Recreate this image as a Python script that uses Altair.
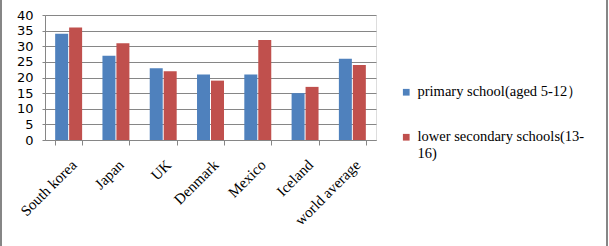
import altair as alt
import pandas as pd

countries = ["South korea", "Japan", "UK", "Denmark", "Mexico", "Iceland", "world average"]
primary = [34, 27, 23, 21, 21, 15, 26]
lower = [36, 31, 22, 19, 32, 17, 24]
series = ["primary school(aged 5-12）", "lower secondary schools(13-16)"]
colors = ["#4F81BD", "#C0504D"]

rows = []
for c, p, l in zip(countries, primary, lower):
    rows.append({"country": c, "series": series[0], "value": p})
    rows.append({"country": c, "series": series[1], "value": l})
df = pd.DataFrame(rows)

W, H = 331, 125

bars = alt.Chart(df).mark_bar(stroke=None).encode(
    x=alt.X("country:N", sort=countries, title=None,
            scale=alt.Scale(paddingInner=0.43, paddingOuter=0.215),
            axis=alt.Axis(labelAngle=-45, labelFont="Liberation Serif", labelFontSize=15,
                          labelColor="#000000", domainColor="#868686", tickColor="#868686",
                          tickBand="extent", tickSize=5, labelPadding=12, grid=False)),
    xOffset=alt.XOffset("series:N", sort=series, scale=alt.Scale(paddingInner=0.07)),
    y=alt.Y("value:Q", title=None,
            scale=alt.Scale(domain=[0, 40], nice=False),
            axis=alt.Axis(values=[0, 5, 10, 15, 20, 25, 30, 35, 40], labelFont="DejaVu Sans",
                          labelFontSize=13, labelColor="#000000", domainColor="#868686",
                          tickColor="#868686", tickSize=3, labelPadding=9,
                          gridColor="#868686", gridWidth=1)),
    color=alt.Color("series:N", sort=series,
                    scale=alt.Scale(domain=series, range=colors),
                    legend=alt.Legend(title=None, orient="none", legendX=354, legendY=70,
                                      symbolType="square", symbolSize=45, symbolStrokeWidth=0,
                                      labelFont="Liberation Serif", labelFontSize=14.5,
                                      labelColor="#000000", rowPadding=30, labelLimit=300,
                                      labelExpr="datum.label == 'lower secondary schools(13-16)' ? ['lower secondary schools(13-', '16)'] : datum.label")),
)

frame = alt.Chart(pd.DataFrame({"k": [0]})).mark_rule(color="#868686", strokeWidth=2).encode(
    x=alt.value(-44), y=alt.value(-15), y2=alt.value(H + 106)
)
frame2 = alt.Chart(pd.DataFrame({"k": [0]})).mark_rule(color="#868686", strokeWidth=2).encode(
    x=alt.value(562), y=alt.value(-15), y2=alt.value(H + 106)
)

chart = alt.layer(bars, frame, frame2).properties(
    width=W, height=H,
    autosize=alt.AutoSizeParams(type="none"),
    padding={"left": 45, "top": 15, "right": 233, "bottom": 106},
).configure_view(stroke=None).configure(background="white")

chart.save("out.html", embed_options={"renderer": "svg", "actions": False})
